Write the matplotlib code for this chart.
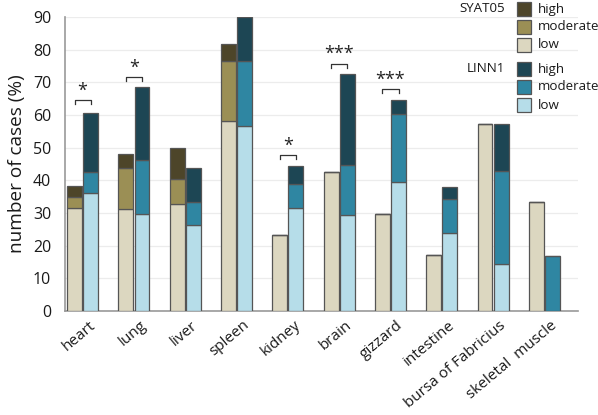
import matplotlib
matplotlib.use("Agg")
import matplotlib.pyplot as plt
from matplotlib.patches import Rectangle
from matplotlib.transforms import ScaledTranslation
import numpy as np

plt.rcParams['font.family'] = ['Open Sans', 'DejaVu Sans']

organs = ["heart", "lung", "liver", "spleen", "kidney", "brain", "gizzard",
          "intestine", "bursa of Fabricius", "skeletal  muscle"]

# cumulative tops (low, low+moderate, total)
syat_low = [31.6, 31.2, 32.6, 58.2, 23.3, 42.4, 29.6, 17.1, 57.1, 33.4]
syat_mod_top = [35.0, 43.6, 40.4, 76.5, 23.3, 42.4, 29.6, 17.1, 57.1, 33.4]
syat_high_top = [38.2, 47.9, 49.9, 81.7, 23.3, 42.4, 29.6, 17.1, 57.1, 33.4]

linn_low = [36.0, 29.6, 26.3, 56.6, 31.4, 29.3, 39.5, 23.9, 14.2, 0.0]
linn_mod_top = [42.5, 46.2, 33.2, 76.5, 38.8, 44.7, 60.2, 34.3, 42.8, 16.8]
linn_high_top = [60.6, 68.5, 43.8, 90.0, 44.4, 72.4, 64.6, 37.9, 57.1, 16.8]

# significance: organ index, bracket height, label
sig_idx = [0, 1, 4, 5, 6]
sig_y = [64.5, 71.6, 47.7, 75.7, 67.8]
sig_lab = ["*", "*", "*", "***", "***"]

syat_cols = ["#dcd7c0", "#9b8f55", "#4d4529"]
linn_cols = ["#b6dde9", "#2f86a2", "#1d4654"]
edge = "#555555"

fig = plt.figure(figsize=(5.98, 4.15), dpi=100)
ax = fig.add_axes([0.109, 0.251, 0.858, 0.708])

x = np.arange(len(organs))
w = 0.29
off = 0.157

def stack(xpos, low, mtop, htop, cols):
    low = np.array(low); mtop = np.array(mtop); htop = np.array(htop)
    ax.bar(xpos, low, w, color=cols[0], edgecolor=edge, linewidth=0.9, zorder=3)
    ax.bar(xpos, mtop - low, w, bottom=low, color=cols[1], edgecolor=edge, linewidth=0.9, zorder=3)
    ax.bar(xpos, htop - mtop, w, bottom=mtop, color=cols[2], edgecolor=edge, linewidth=0.9, zorder=3)

stack(x - off, syat_low, syat_mod_top, syat_high_top, syat_cols)
stack(x + off, linn_low, linn_mod_top, linn_high_top, linn_cols)

for i, yv, lab in zip(sig_idx, sig_y, sig_lab):
    x0, x1 = i - off, i + off
    ax.plot([x0, x0, x1, x1], [yv - 1.2, yv, yv, yv - 1.2], color="#333333", lw=0.9, zorder=4, clip_on=False)
    ax.text(i, yv + 0.2, lab, ha="center", va="bottom", fontsize=13, color="#222222")

ax.set_ylim(0, 90)
ax.set_xlim(-0.34, 9.66)
ax.set_yticks(np.arange(0, 91, 10))
ax.tick_params(axis='y', length=0, labelsize=11.5, pad=10, colors="#1a1a1a")
ax.tick_params(axis='x', length=0, pad=5)
ax.set_xticks(x)
ax.set_xticklabels(organs, rotation=40, ha="right", rotation_mode="anchor", fontsize=11, color="#1a1a1a")
shift = ScaledTranslation(6 / 100, 0, fig.dpi_scale_trans)
for lbl in ax.get_xticklabels():
    lbl.set_transform(lbl.get_transform() + shift)
ax.yaxis.grid(True, color="#ececec", lw=0.9, zorder=0)
ax.set_axisbelow(True)
for s in ["top", "right"]:
    ax.spines[s].set_visible(False)
ax.spines["left"].set_color("#999999")
ax.spines["bottom"].set_color("#999999")
ax.spines["left"].set_linewidth(1.2)
ax.spines["bottom"].set_linewidth(1.2)
ax.set_ylabel("number of cases (%)", fontsize=13.7, color="#1a1a1a", labelpad=5)

# manual legend in figure pixel coords
W, H = 598, 415
def fpatch(px, py, col):
    fig.patches.append(Rectangle((px / W, 1 - (py + 14) / H), 14 / W, 14 / H,
                                 facecolor=col, edgecolor=edge, lw=0.9, transform=fig.transFigure, zorder=5))

def ftext(px, py, s, ha="left"):
    fig.text(px / W, 1 - py / H, s, ha=ha, va="center", fontsize=9.6, color="#1a1a1a")

groups = [("SYAT05", syat_cols, 2), ("LINN1", linn_cols, 62)]
levels = ["high", "moderate", "low"]
for title, cols, y0 in groups:
    ftext(505, y0 + 7, title, ha="right")
    for k, lv in enumerate(levels):
        py = y0 + k * 18
        fpatch(517, py, cols[2 - k])
        ftext(538, py + 7, lv)

fig.savefig("out.png", dpi=100)
